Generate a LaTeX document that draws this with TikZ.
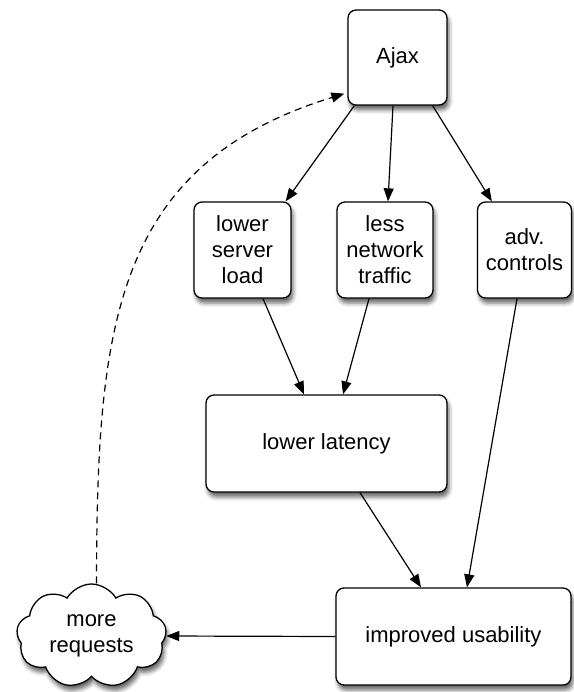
\documentclass[tikz,border=0pt]{standalone}
\usepackage{fontspec}
\setmainfont{Liberation Sans}
\usetikzlibrary{arrows.meta,shapes.symbols,shadows.blur,calc}
\begin{document}
\begin{tikzpicture}[x=1pt,y=-1pt,
  box/.style={draw=black,line width=1.3pt,rounded corners=8pt,fill=white,align=center,
    font=\fontsize{22}{26}\selectfont,inner sep=0pt,
    blur shadow={shadow xshift=2pt,shadow yshift=-5pt,shadow blur radius=4pt,shadow opacity=60}},
  conn/.style={line width=1.2pt,-{Triangle[length=13pt,width=10pt]}},
  dconn/.style={conn,dash pattern=on 7pt off 5pt}]
\useasboundingbox (0,0) rectangle (573,692);
\node[box,minimum width=99pt,minimum height=95pt] (ajax) at (397.5,57.5) {Ajax};
\node[box,minimum width=97pt,minimum height=96pt] (lsl) at (242.5,250) {lower\\server\\load};
\node[box,minimum width=96pt,minimum height=96pt] (lnt) at (385,250) {less\\network\\traffic};
\node[box,minimum width=94pt,minimum height=96pt] (adv) at (524.5,250) {adv.\\controls};
\node[box,minimum width=241pt,minimum height=97pt] (lat) at (326.5,443.5) {lower latency};
\node[box,minimum width=235pt,minimum height=97pt] (imp) at (453.5,636.5) {improved usability};
\node[cloud,cloud puffs=9,cloud puff arc=120,aspect=1.4,draw=black,line width=1.3pt,fill=white,
  minimum width=150pt,minimum height=104pt,inner sep=0pt,align=center,
  font=\fontsize{22}{26}\selectfont,
  blur shadow={shadow xshift=2pt,shadow yshift=-5pt,shadow blur radius=4pt,shadow opacity=60}]
  (cloud) at (91.5,636) {more\\requests};
\draw[conn] ($(ajax.south west)+(7,0)$) -- ($(lsl.north east)+(-6,0)$);
\draw[conn] ($(ajax.south)+(-4.5,0)$) -- ($(lnt.north)+(3,0)$);
\draw[conn] ($(ajax.south east)+(-15,0)$) -- ($(adv.north west)+(15,0)$);
\draw[conn] ($(lsl.south)+(20.5,0)$) -- ($(lat.north)+(-22.5,0)$);
\draw[conn] ($(lnt.south)+(-16,0)$) -- ($(lat.north)+(16.5,0)$);
\draw[conn] ($(adv.south)+(-7.5,0)$) -- ($(imp.north)+(13.5,0)$);
\draw[conn] ($(lat.south)+(33.5,0)$) -- ($(imp.north)+(-32.5,0)$);
\draw[conn] (imp.west) -- (cloud.east);
\draw[dconn] ($(cloud.north)+(5,0)$) .. controls (97,330) and (112,165) .. ($(ajax.south west)+(-3,-12)$);
\end{tikzpicture}
\end{document}
